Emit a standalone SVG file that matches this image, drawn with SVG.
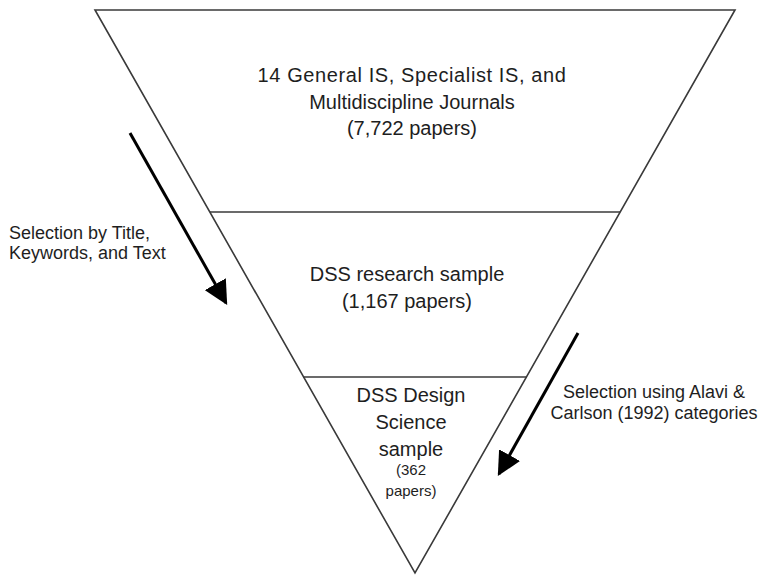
<svg xmlns="http://www.w3.org/2000/svg" width="761" height="575" viewBox="0 0 761 575">
<defs>
<style>
.ln{stroke:#3a3a3a;stroke-width:1.6;fill:none}
.t{font-family:"Liberation Sans",Arial,sans-serif;fill:#1e1e1e;text-anchor:middle}
.big{font-size:20px}
.sm{font-size:15px}
.lab{font-family:"Liberation Sans",Arial,sans-serif;fill:#1e1e1e;font-size:18px}
.arr{stroke:#000;stroke-width:3;fill:none}
</style>
<marker id="ah" viewBox="0 0 10 10" refX="9" refY="5" markerWidth="8" markerHeight="8" markerUnits="strokeWidth" orient="auto">
<path d="M0,0 L10,5 L0,10 z" fill="#000"/>
</marker>
</defs>
<rect width="761" height="575" fill="#fff"/>
<g id="funnel">
<polygon class="ln" points="95,10 735,10 415,573"/>
</g>
<g id="tier1">
<line class="ln" x1="210" y1="212" x2="620" y2="212"/>
<text class="t big" x="412" y="82" letter-spacing="0.6">14 General IS, Specialist IS, and</text>
<text class="t big" x="412" y="109">Multidiscipline Journals</text>
<text class="t big" x="412" y="135">(7,722 papers)</text>
</g>
<g id="tier2">
<line class="ln" x1="303" y1="377" x2="527" y2="377"/>
<text class="t big" x="407" y="281">DSS research sample</text>
<text class="t big" x="407" y="308">(1,167 papers)</text>
</g>
<g id="tier3">
<text class="t big" x="411" y="402">DSS Design</text>
<text class="t big" x="411" y="429">Science</text>
<text class="t big" x="411" y="456">sample</text>
<text class="t sm" x="411" y="475">(362</text>
<text class="t sm" x="411" y="496">papers)</text>
</g>
<g id="connectors">
<line class="arr" x1="130" y1="133" x2="226" y2="303" marker-end="url(#ah)"/>
<line class="arr" x1="578" y1="333" x2="499" y2="474" marker-end="url(#ah)"/>
</g>
<g id="label-left">
<text class="lab" x="9" y="239">Selection by Title,</text>
<text class="lab" x="9" y="259">Keywords, and Text</text>
</g>
<g id="label-right">
<text class="lab" x="654" y="398" text-anchor="middle">Selection using Alavi &amp;</text>
<text class="lab" x="654" y="419" text-anchor="middle">Carlson (1992) categories</text>
</g>
</svg>
